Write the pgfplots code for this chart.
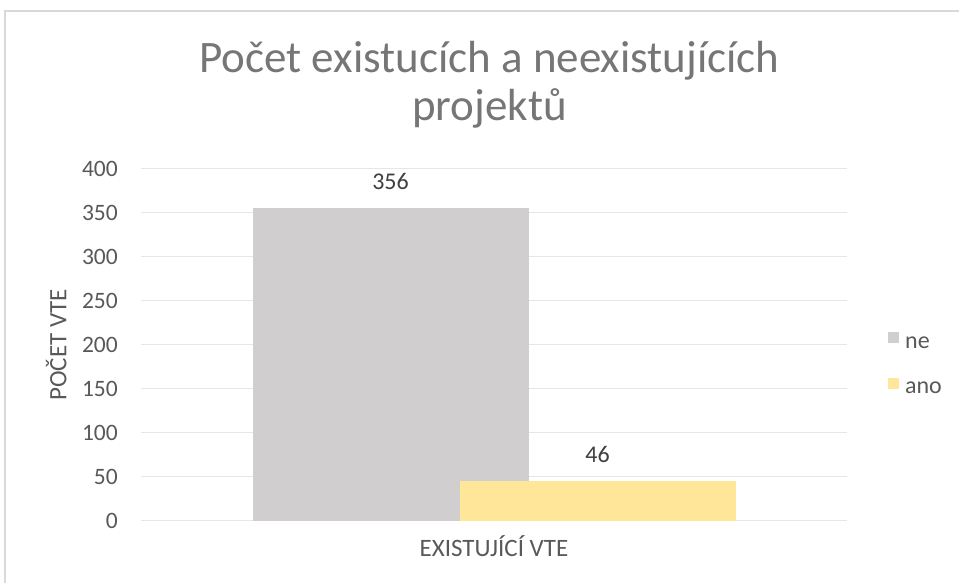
\documentclass[border=0pt]{standalone}
\usepackage{pgfplots}
\pgfplotsset{compat=1.18}
\usepackage{fontspec}
\setmainfont{Carlito}
\definecolor{cgray}{HTML}{D0CECE}
\definecolor{cyellow}{HTML}{FFE699}
\definecolor{ctext}{HTML}{595959}
\definecolor{ctitle}{HTML}{767676}
\definecolor{cgrid}{HTML}{E6E6E6}
\definecolor{cframe}{HTML}{D9D9D9}
\begin{document}
\begin{tikzpicture}
\useasboundingbox (0pt,0pt) rectangle (959pt,583pt);
\fill[white] (0pt,0pt) rectangle (959pt,583pt);
\draw[cframe, line width=2pt] (5pt,-2pt) -- (5pt,572pt) -- (962pt,572pt);
\begin{axis}[
  at={(141pt,62pt)}, anchor=south west,
  scale only axis, width=706pt, height=352pt,
  xmin=-1, xmax=1, ymin=0, ymax=400,
  ytick={0,50,...,400},
  xtick={0}, xticklabels={EXISTUJÍCÍ VTE},
  major tick length=0pt,
  axis line style={draw=none},
  ymajorgrids, grid style={cgrid, line width=1pt},
  /pgf/number format/assume math mode=true,
  yticklabel style={anchor=east, inner sep=0pt, xshift=-23pt, font=\fontsize{23.5}{28}\selectfont, text=ctext},
  xticklabel style={anchor=base, inner sep=0pt, yshift=-36pt, font=\fontsize{25}{30}\selectfont, text=ctext},
  ylabel={POČET VTE},
  ylabel style={at={(axis description cs:-0.12,0.5)}, anchor=center, font=\fontsize{25}{30}\selectfont, text=ctext},
  title={Počet existucích a neexistujících\\projektů},
  title style={at={(axis description cs:0.4936,1.222)}, anchor=center, align=center, font=\fontsize{45}{48}\selectfont, text=ctitle},
  nodes near coords,
  every node near coord/.append style={anchor=base, inner sep=0pt, yshift=18pt, font=\fontsize{24}{28}\selectfont, text=black!75},
  legend image code/.code={\path[#1] (0pt,0pt) rectangle (11pt,11pt); \path (17pt,0pt);},
  legend style={at={(axis description cs:1.058,0.447)}, anchor=west, draw=none, fill=none, inner sep=0pt, row sep=28pt,
    nodes={inner sep=0pt, font=\fontsize{24}{28}\selectfont, text=ctext}},
  legend cell align=left,
]
\addplot[ybar, bar width=276pt, bar shift=0pt, fill=cgray, draw=none] coordinates {(-0.2932,356)};
\addplot[ybar, bar width=276pt, bar shift=0pt, fill=cyellow, draw=none] coordinates {(0.2932,46)};
\legend{ne,ano}
\end{axis}
\end{tikzpicture}
\end{document}
